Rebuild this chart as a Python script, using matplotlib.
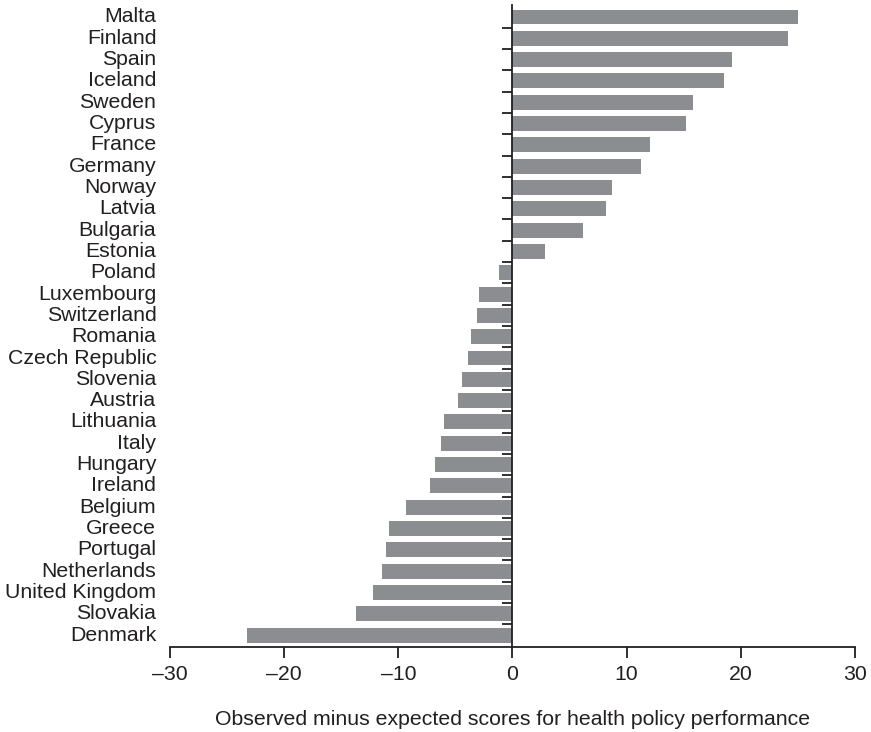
import numpy as np
import matplotlib.pyplot as plt
from matplotlib.transforms import blended_transform_factory

# countries from top to bottom, with observed minus expected scores
countries = ['Malta', 'Finland', 'Spain', 'Iceland', 'Sweden', 'Cyprus',
             'France', 'Germany', 'Norway', 'Latvia', 'Bulgaria', 'Estonia',
             'Poland', 'Luxembourg', 'Switzerland', 'Romania', 'Czech Republic',
             'Slovenia', 'Austria', 'Lithuania', 'Italy', 'Hungary', 'Ireland',
             'Belgium', 'Greece', 'Portugal', 'Netherlands', 'United Kingdom',
             'Slovakia', 'Denmark']
scores = [25.0, 24.1, 19.2, 18.5, 15.8, 15.2,
          12.05, 11.3, 8.7, 8.2, 6.2, 2.85,
          -1.15, -2.9, -3.1, -3.6, -3.9,
          -4.4, -4.75, -6.0, -6.3, -6.75, -7.2,
          -9.3, -10.8, -11.05, -11.4, -12.2,
          -13.75, -23.3]
xticks = [-30, -20, -10, 0, 10, 20, 30]

plt.rcParams['font.family'] = ['Liberation Sans', 'DejaVu Sans']
TXT = '#231f20'
BAR = '#8c8d91'
FS = 15.3

fig = plt.figure(figsize=(8.71, 7.32), dpi=100)
ax = fig.add_axes([0.1952, 0.1161, 0.7864, 0.8770])

n = len(countries)
ypos = np.arange(n)
ax.barh(ypos, scores, height=0.70, color=BAR, zorder=2)

ax.set_xlim(-30, 30)
ax.set_ylim(n - 0.44, -0.56)

# ... spines ...
ax.spines['top'].set_visible(False)
ax.spines['right'].set_visible(False)
ax.spines['left'].set_position(('data', 0))
ax.spines['left'].set_color(TXT)
ax.spines['left'].set_linewidth(1.3)
ax.spines['bottom'].set_color(TXT)
ax.spines['bottom'].set_linewidth(1.3)

# ... y ticks: little marks between bars on the zero line ...
ax.set_yticks(ypos)
ax.set_yticklabels([])
ax.tick_params(axis='y', which='major', length=0)
ax.set_yticks(ypos[:-1] + 0.5, minor=True)
ax.tick_params(axis='y', which='minor', length=7, width=1.3,
               direction='out', color=TXT)

# ... category labels at left edge of axes ...
trans = blended_transform_factory(ax.transAxes, ax.transData)
for y, name in zip(ypos, countries):
    ax.text(-0.02, y, name, transform=trans, ha='right', va='center',
            fontsize=FS, color=TXT)

# ... x axis ...
ax.set_xticks(xticks)
ax.set_xticklabels(['\u2013' + str(-v) if v < 0 else str(v) for v in xticks])
ax.tick_params(axis='x', length=8, width=1.3, direction='out', color=TXT,
               labelsize=FS, labelcolor=TXT, pad=5)
ax.set_xlabel('Observed minus expected scores for health policy performance',
              fontsize=FS, color=TXT, labelpad=19)

fig.savefig('out.png', dpi=100)
